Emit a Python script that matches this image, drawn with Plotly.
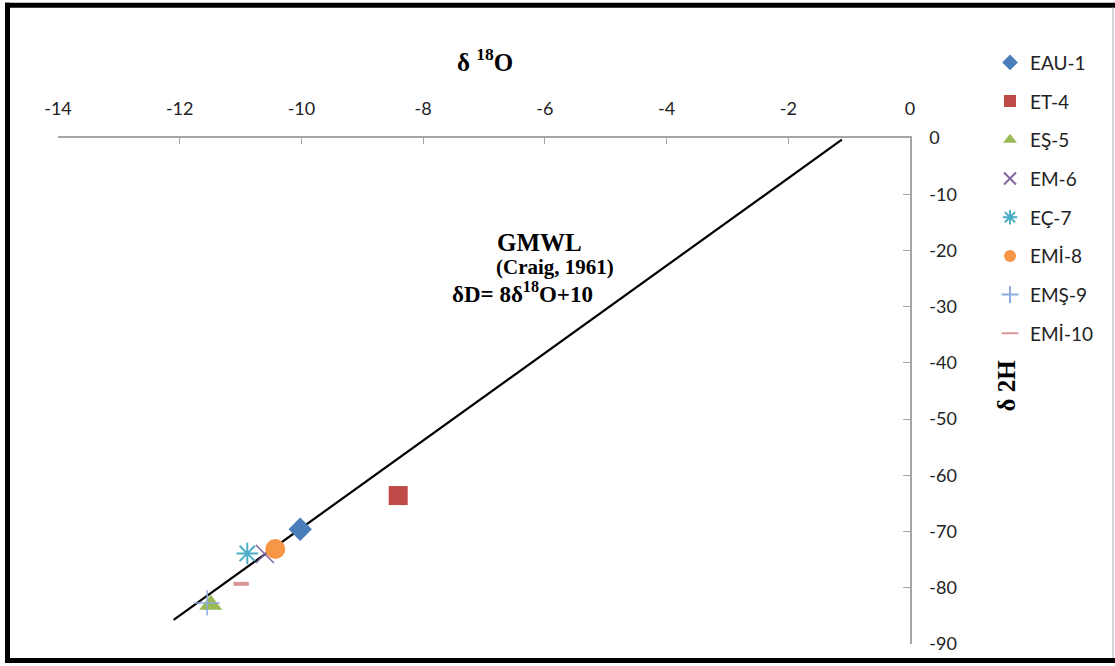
import plotly.graph_objects as go

# ---- data ----
samples = ["EAU-1", "ET-4", "EŞ-5", "EM-6", "EÇ-7", "EMİ-8", "EMŞ-9", "EMİ-10"]
d18o = [-10.02, -8.41, -11.49, -10.60, -10.89, -10.43, -11.55, -10.99]
d2h = [-69.6, -63.6, -83.0, -74.0, -73.9, -73.1, -82.7, -79.3]

gmwl_x = [-12.1, -1.12]
gmwl_y = [-85.7, -0.3]

x_ticks = [-14, -12, -10, -8, -6, -4, -2, 0]
x_ticktext = ["-14", "-12", "-10", "-8", "-6", "-4", "-2", "0"]
y_ticks = [0, -10, -20, -30, -40, -50, -60, -70, -80, -90]
y_ticktext = ["0", "-10", "-20", "-30", "-40", "-50", "-60", "-70", "-80", "-90"]

# ---- styles ----
symbols = ["diamond", "square", "triangle-up", "x-thin-open", "asterisk-open",
           "circle", "cross-thin-open", "line-ew-open"]
colors = ["#4A7EBB", "#BE4B48", "#98B954", "#8064A2", "#4BACC6",
          "#F79646", "#8EA9DB", "#D99694"]
sizes = [18, 19, 20, 18, 18, 20, 18, 11]
open_sym = [False, False, False, True, True, False, True, True]
line_w = [0, 0, 0, 1.5, 2, 0, 1.5, 4]

W, H = 1115, 666
L, R, T, B = 58, 205, 138, 19
PW, PH = W - L - R, H - T - B

def px(x):
    return (x - L) / PW

def py(y):
    return (H - B - y) / PH

fig = go.Figure()

fig.add_trace(go.Scatter(x=gmwl_x, y=gmwl_y, mode="lines",
                         line=dict(color="black", width=2.2),
                         showlegend=False, hoverinfo="skip"))

for i, s in enumerate(samples):
    mk = dict(symbol=symbols[i], size=sizes[i], color=colors[i])
    if open_sym[i]:
        mk["line"] = dict(color=colors[i], width=line_w[i])
    else:
        mk["line"] = dict(width=0)
    fig.add_trace(go.Scatter(x=[d18o[i]], y=[d2h[i]], mode="markers",
                             name=s, marker=mk, legendgroup=s))

tickfont = dict(family="Lato", size=18, color="#222222")

fig.update_layout(
    width=W, height=H,
    margin=dict(l=L, r=R, t=T, b=B),
    paper_bgcolor="white", plot_bgcolor="white",
    showlegend=True,
    legend=dict(x=px(990), y=py(43), xanchor="left", yanchor="top",
                font=dict(family="Lato", size=19, color="#222222"),
                tracegroupgap=11, itemsizing="constant",
                bgcolor="rgba(0,0,0,0)"),
    xaxis=dict(range=[-14, 0], side="top", tickvals=x_ticks, ticktext=x_ticktext,
               showgrid=False, zeroline=False, showline=True, linecolor="#A6A6A6",
               linewidth=1.5, ticks="inside", ticklen=6, tickcolor="#A6A6A6",
               tickfont=tickfont, ticklabelstandoff=14),
    yaxis=dict(range=[-90, 0], side="right", tickvals=y_ticks, ticktext=y_ticktext,
               showgrid=False, zeroline=False, showline=True, linecolor="#A6A6A6",
               linewidth=1.5, ticks="inside", ticklen=7, tickcolor="#A6A6A6",
               tickfont=tickfont, ticklabelstandoff=14),
)

serif = "Liberation Serif"
annos = [
    dict(text="<b>δ <sup>18</sup>O</b>", x=px(485), y=py(60), size=25, angle=0),
    dict(text="<b>δ 2H</b>", x=px(1007), y=py(387), size=25, angle=-90),
    dict(text="<b>GMWL</b>", x=px(539), y=py(243), size=25, angle=0),
    dict(text="<b>(Craig, 1961)</b>", x=px(555), y=py(268), size=21, angle=0),
    dict(text="<b>δD= 8δ<sup>18</sup>O+10</b>", x=px(522), y=py(293), size=23, angle=0),
]
for a in annos:
    fig.add_annotation(text=a["text"], x=a["x"], y=a["y"], xref="paper", yref="paper",
                       showarrow=False, textangle=a["angle"],
                       font=dict(family=serif, size=a["size"], color="black"),
                       xanchor="center", yanchor="middle")

# outer frame
fig.add_shape(type="rect", xref="paper", yref="paper",
              x0=px(5), x1=px(10), y0=py(666), y1=py(2),
              fillcolor="black", line=dict(width=0), layer="above")
fig.add_shape(type="rect", xref="paper", yref="paper",
              x0=px(5), x1=px(1115), y0=py(7), y1=py(2),
              fillcolor="black", line=dict(width=0), layer="above")
fig.add_shape(type="rect", xref="paper", yref="paper",
              x0=px(5), x1=px(1115), y0=py(666), y1=py(661),
              fillcolor="black", line=dict(width=0), layer="above")
fig.add_shape(type="line", xref="paper", yref="paper",
              x0=px(1113), x1=px(1113), y0=py(661), y1=py(7),
              line=dict(color="#C8C8C8", width=1.5), layer="above")

fig.write_html("out.html", config={"displayModeBar": False},
               post_script="document.body.style.margin='0';")
